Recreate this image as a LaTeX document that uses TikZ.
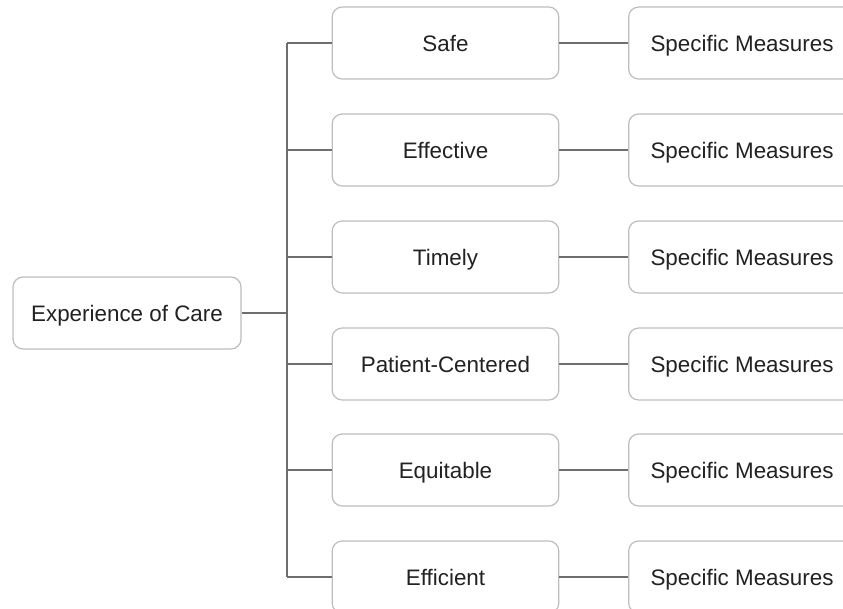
\documentclass[tikz,border=0pt]{standalone}
\usepackage{fontspec}
\setmainfont{Liberation Sans}
\begin{document}
\begin{tikzpicture}[x=0.75pt,y=-0.75pt,
  box/.style={draw=boxgray, line width=0.9pt, rounded corners=7.5pt, fill=white,
    minimum width=170pt, minimum height=54pt, inner sep=0pt, text=textdark,
    text height=15pt, text depth=2pt,
    font=\fontsize{16.8pt}{20pt}\selectfont},
  conn/.style={draw=linegray, line width=1.1pt}]
\definecolor{boxgray}{HTML}{BDBDBD}
\definecolor{linegray}{HTML}{6E6E6E}
\definecolor{textdark}{HTML}{222222}
\useasboundingbox (0,0) rectangle (843,608);
\clip (0,0) rectangle (843,608);
\node[box, minimum width=171pt] (root) at (127,313) {Experience of Care};
\coordinate (trunk) at (287,313);
\foreach \i/\y/\t in {1/43/Safe,2/150/Effective,3/257/Timely,4/364/Patient-Centered,5/470/Equitable,6/577/Efficient}{
  \node[box] (m\i) at (445.5,\y) {\t};
  \node[box] (s\i) at (742,\y) {Specific Measures};
  \coordinate (t\i) at (287,\y);
  \draw[conn] (t\i) -- (m\i.west);
  \draw[conn] (m\i.east) -- (s\i.west);
}
\draw[conn] (root.east) -- (trunk);
\draw[conn] (t1) -- (t6);
\end{tikzpicture}
\end{document}
